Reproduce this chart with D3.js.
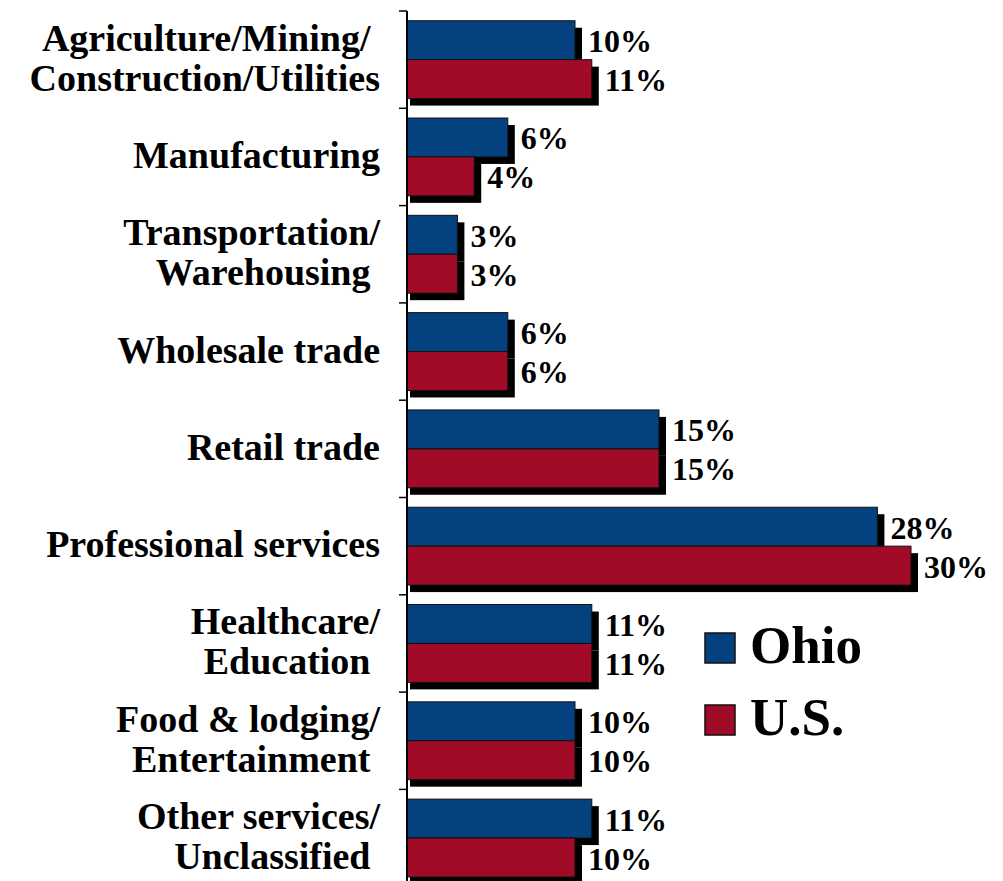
<!DOCTYPE html>
<html><head><meta charset="utf-8">
<script src="https://cdn.jsdelivr.net/npm/d3@7/dist/d3.min.js"></script>
<style>body{margin:0;background:#fff}svg{display:block}</style>
</head><body>
<svg id="chart" width="1003" height="881"></svg>
<script>
const categories = [
  ["Agriculture/Mining/\u00a0", "Construction/Utilities"],
  ["Manufacturing"],
  ["Transportation/", "Warehousing\u00a0"],
  ["Wholesale trade"],
  ["Retail trade"],
  ["Professional services"],
  ["Healthcare/", "Education\u00a0"],
  ["Food & lodging/", "Entertainment\u00a0"],
  ["Other services/", "Unclassified\u00a0"]
];
const ohio = [10, 6, 3, 6, 15, 28, 11, 10, 11];
const us   = [11, 4, 3, 6, 15, 30, 11, 10, 10];
const seriesNames = ["Ohio", "U.S."];
const colors = ["#03417f", "#a20b28"];

const svg = d3.select("#chart");
const font = "'Liberation Serif', 'DejaVu Serif', serif";
const ids = categories.map((c, i) => i);
const y = d3.scaleBand().domain(ids).range([11, 886.7]).paddingInner(0.2).paddingOuter(0.1);
const x = d3.scaleLinear().domain([0, 30]).range([407, 911]);
const sub = d3.scaleBand().domain([0, 1]).range([0, y.bandwidth()]);
const data = [];
ids.forEach(i => { data.push({i, s: 0, v: ohio[i]}); data.push({i, s: 1, v: us[i]}); });

// shadows
svg.append("g").selectAll("rect").data(data).join("rect")
  .attr("x", 410).attr("y", d => y(d.i) + sub(d.s) + 7)
  .attr("width", d => x(d.v) - 410 + 7).attr("height", sub.bandwidth())
  .attr("fill", "#000");
// bars
svg.append("g").selectAll("rect").data(data).join("rect")
  .attr("x", x(0)).attr("y", d => y(d.i) + sub(d.s))
  .attr("width", d => x(d.v) - x(0)).attr("height", sub.bandwidth())
  .attr("fill", d => colors[d.s]).attr("stroke", "#111").attr("stroke-width", 1);
// value labels
svg.append("g").selectAll("text").data(data).join("text")
  .attr("x", d => x(d.v) + 13).attr("y", d => y(d.i) + sub(d.s) + sub.bandwidth() / 2 + 12)
  .attr("font-family", font).attr("font-weight", "bold").attr("font-size", 32)
  .attr("fill", "#000").text(d => d.v + "%");

// axis
const axisG = svg.append("g");
axisG.append("line").attr("x1", 407).attr("x2", 407).attr("y1", 11).attr("y2", 886.7)
  .attr("stroke", "#000").attr("stroke-width", 2);
const tickYs = ids.map(i => y(i) - y.step() * y.paddingInner() / 2).concat([886.7]);
axisG.selectAll("line.t").data(tickYs).join("line").attr("class", "t")
  .attr("x1", 399).attr("x2", 407).attr("y1", d => d).attr("y2", d => d)
  .attr("stroke", "#000").attr("stroke-width", 1.5);

// category labels
const lab = svg.append("g").selectAll("text").data(ids).join("text")
  .attr("text-anchor", "end").attr("font-family", font).attr("font-weight", "bold")
  .attr("font-size", 38).attr("fill", "#000")
  .attr("transform", i => `translate(380,${y(i) + y.bandwidth() / 2})`);
lab.each(function(i) {
  const lines = categories[i];
  const n = lines.length;
  d3.select(this).selectAll("tspan").data(lines).join("tspan")
    .attr("x", 0).attr("y", (d, k) => (k - (n - 1) / 2) * 40 + 11).text(d => d);
});

// legend
const leg = svg.append("g");
seriesNames.forEach((name, k) => {
  const ly = 633 + k * 72;
  leg.append("rect").attr("x", 705).attr("y", ly).attr("width", 30).attr("height", 30)
    .attr("fill", colors[k]).attr("stroke", "#111").attr("stroke-width", 1.5);
  leg.append("text").attr("x", 750).attr("y", ly + 30)
    .attr("font-family", font).attr("font-weight", "bold").attr("font-size", 53)
    .attr("fill", "#000").text(name);
});
</script>
</body></html>
